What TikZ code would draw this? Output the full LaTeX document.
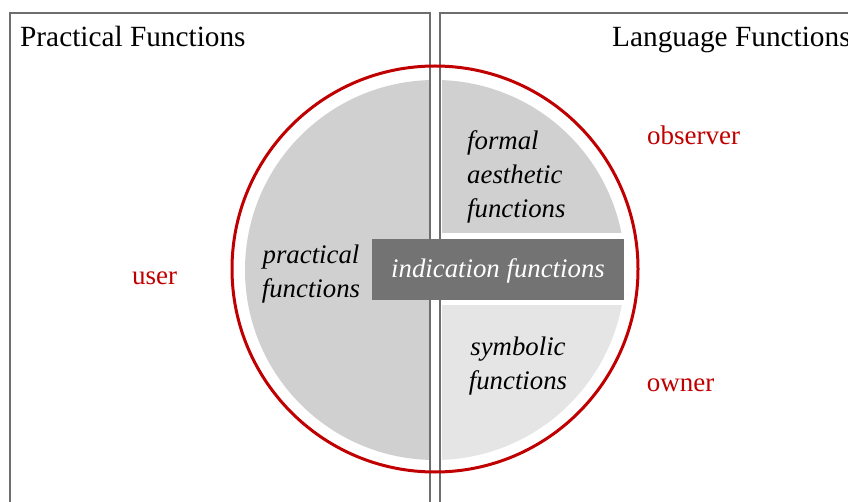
\documentclass[tikz,border=0pt]{standalone}
\usepackage{fontspec}
\setmainfont{Liberation Serif}
\definecolor{panelline}{HTML}{6E6E6E}
\definecolor{ringred}{HTML}{C00000}
\definecolor{midgray}{HTML}{D0D0D0}
\definecolor{palegray}{HTML}{E5E5E5}
\definecolor{darkgray}{HTML}{737373}
\tikzset{
  panel/.style={draw=panelline, line width=1.5pt},
  header/.style={inner sep=0pt, font=\fontsize{29.3}{34}\selectfont},
  role/.style={inner sep=0pt, text=ringred, font=\fontsize{27}{34}\selectfont},
  func/.style={inner sep=0pt, font=\fontsize{26.8}{34}\selectfont\itshape},
}
\begin{document}
\begin{tikzpicture}[x=1pt,y=-1pt]
\useasboundingbox (0,0) rectangle (848,502);
% gray segments
\begin{scope}
  \clip (0,0) rectangle (430,502);
  \fill[midgray] (435,270) circle [radius=190pt];
\end{scope}
\begin{scope}
  \clip (442,0) rectangle (848,233);
  \fill[midgray] (435,270) circle [radius=190pt];
\end{scope}
\begin{scope}
  \clip (442,306) rectangle (848,502);
  \fill[palegray] (435,270) circle [radius=190pt];
\end{scope}
% panels
\draw[panel] (10,510) -- (10,13) -- (430,13) -- (430,510);
\draw[panel] (440,510) -- (440,13) -- (860,13);
% indication box
\node[fill=darkgray, minimum width=252pt, minimum height=61pt, inner sep=0pt] (ind) at (498,269.5) {};
% ring
\draw[ringred, line width=3pt] (435,269) circle [radius=203pt];
% headers
\node[header, anchor=base west] (pf) at (20,46.5) {Practical Functions};
\node[header, anchor=base west] (lf) at (612,46.5) {Language Functions};
% roles
\node[role, anchor=base] (user) at (154.5,284.5) {user};
\node[role, anchor=base] (obs) at (693.5,144.5) {observer};
\node[role, anchor=base] (own) at (680.5,391.5) {owner};
% functions
\node[func, align=left, anchor=west] (aes) at (467,176.5) {formal\\aesthetic\\functions};
\node[func, align=center] (prac) at (311,274) {practical\\functions};
\node[func, align=center] (sym) at (518,366.5) {symbolic\\functions};
\node[func, text=white] (indt) at ([yshift=-1.5pt]ind.center) {indication functions};
\end{tikzpicture}
\end{document}
